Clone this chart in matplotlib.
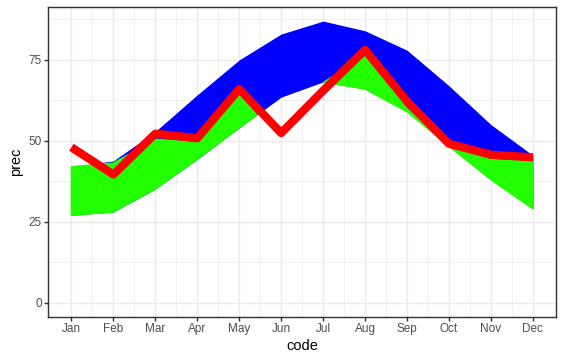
import matplotlib
matplotlib.use("Agg")
import matplotlib.pyplot as plt
import numpy as np

# monthly precipitation bands + observed series
months = ["Jan", "Feb", "Mar", "Apr", "May", "Jun", "Jul", "Aug", "Sep", "Oct", "Nov", "Dec"]
code = np.arange(1, 13)

band_lo = [27, 28, 35.1, 44.3, 54, 63.5, 68.2, 66, 59, 48.3, 38, 29]      # shared lower edge
blue_hi = [42, 43.8, 52.9, 64.2, 75, 83, 87, 84, 78, 67, 55, 45.5]
green_hi = [42, 43.1, 50.5, 49.5, 64.5, 49, 68, 76, 60, 48.5, 44.2, 43.6]
prec = [48, 39.6, 52.2, 50.8, 66, 52.4, 65.5, 78.1, 62.2, 49.1, 45.7, 44.9]

plt.rcParams["font.family"] = ["Liberation Sans", "DejaVu Sans"]

fig = plt.figure(figsize=(564 / 96, 358 / 96), dpi=96)
ax = fig.add_axes([48.3 / 564, (358 - 316.7) / 358, (556 - 48.3) / 564, (316.7 - 7) / 358])

lo = np.array(band_lo)
g_hi = np.array(green_hi)
ax.fill_between(code, lo, blue_hi, color="#0000FF", linewidth=0, zorder=2)
# green band only where its top is above the shared lower edge;
# same-colour edge hides the blue antialiasing seam underneath
ax.fill_between(code, lo, g_hi, where=g_hi >= lo, interpolate=True,
                facecolor="#22FF00", edgecolor="#22FF00", linewidth=1.1, zorder=3)
ax.plot(code, prec, color="#FF0000", linewidth=6.2, solid_capstyle="butt",
        solid_joinstyle="round", zorder=4)

# ggplot-like 5% expansion, y includes 0
ymax = max(blue_hi)
ax.set_xlim(1 - 0.55, 12 + 0.55)
ax.set_ylim(0 - 0.05 * ymax, ymax * 1.05)

ax.set_xticks(code)
ax.set_xticklabels(months)
ax.set_xticks(np.arange(1.5, 12, 1), minor=True)
ax.set_yticks([0, 25, 50, 75])
ax.set_yticks([12.5, 37.5, 62.5, 87.5], minor=True)

ax.grid(which="major", color="#EBEBEB", linewidth=1.07, zorder=0)
ax.grid(which="minor", color="#EBEBEB", linewidth=0.53, zorder=0)
ax.set_axisbelow(True)

ax.tick_params(which="major", length=2.75, width=1.07, color="#333333",
               labelsize=8.8, labelcolor="#4D4D4D", pad=2.2)
ax.tick_params(which="minor", length=0)
for s in ax.spines.values():
    s.set_color("#333333")
    s.set_linewidth(1.07)

ax.set_xlabel("code", fontsize=11, labelpad=3)
ax.set_ylabel("prec", fontsize=11, labelpad=4)

fig.savefig("out.png", dpi=96)
